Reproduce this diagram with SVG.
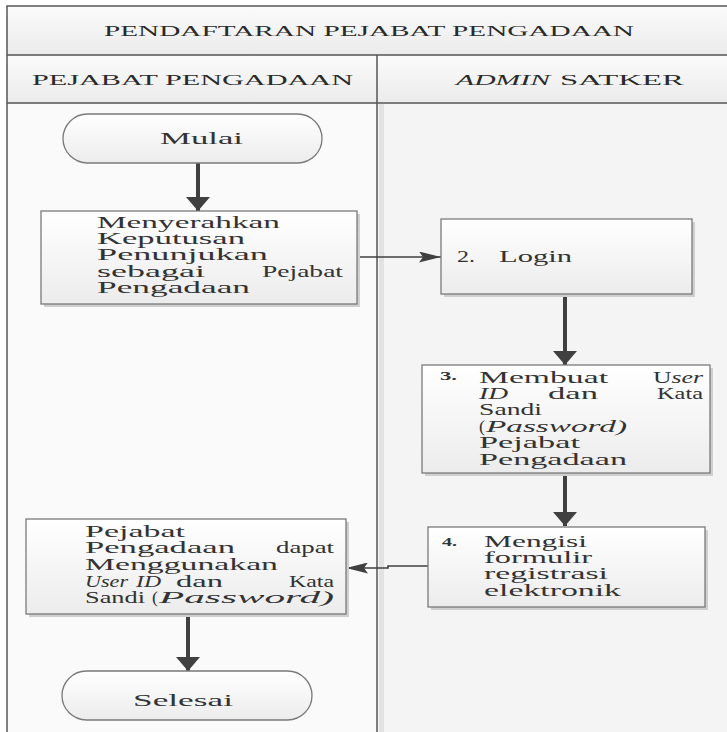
<svg xmlns="http://www.w3.org/2000/svg" width="727" height="732" viewBox="0 0 727 732">
  <defs>
    <linearGradient id="hdr" x1="0" y1="0" x2="0" y2="1">
      <stop offset="0" stop-color="#fbfbfb"/>
      <stop offset="1" stop-color="#ebebeb"/>
    </linearGradient>
    <linearGradient id="box" x1="0" y1="0" x2="0" y2="1">
      <stop offset="0" stop-color="#ffffff"/>
      <stop offset="1" stop-color="#ececec"/>
    </linearGradient>
    <marker id="headBig" viewBox="0 0 14 24" refX="14" refY="12" markerWidth="14" markerHeight="24" markerUnits="userSpaceOnUse" orient="auto">
      <path d="M0,0 L14,12 L0,24 Z" fill="#404040"/>
    </marker>
    <marker id="headThin" viewBox="0 0 22 11" refX="22" refY="5.5" markerWidth="22" markerHeight="11" markerUnits="userSpaceOnUse" orient="auto">
      <path d="M0,0 L22,5.5 L0,11 L4,5.5 Z" fill="#404040"/>
    </marker>
  </defs>
  <style>
    text { font-family: "Liberation Serif", "DejaVu Serif", serif; fill: #333333; }
    .t { font-size: 17.5px; }
    .h { font-size: 15.5px; fill: #2a2a2a; }
    .it { font-style: italic; }
    .num { font-size: 13px; font-weight: bold; }
    .frame { fill: none; stroke: #555555; stroke-width: 1.5; }
    .node { fill: url(#box); stroke: #7a7a7a; stroke-width: 1.3; }
    .shadow { fill: #cfcfcf; }
    .vconn { fill: none; stroke: #404040; stroke-width: 4; }
    .hconn { fill: none; stroke: #404040; stroke-width: 1.6; }
  </style>

  <!-- swimlane background -->
  <rect x="0" y="0" width="727" height="732" fill="#ffffff"/>
  <rect x="7" y="103" width="370" height="629" fill="#fafafa"/>
  <rect x="377" y="103" width="350" height="629" fill="#f4f4f4"/>
  <rect x="379" y="104" width="5" height="628" fill="#e2e2e2"/>
  <rect x="7" y="6" width="720" height="49" fill="url(#hdr)"/>
  <rect x="7" y="55" width="720" height="48" fill="url(#hdr)"/>

  <!-- swimlane frame -->
  <g id="lanes">
    <path class="frame" d="M7,732 V6 H727"/>
    <path class="frame" d="M7,55 H727"/>
    <path class="frame" d="M7,103 H727" stroke-width="2"/>
    <path class="frame" d="M377,55 V732"/>
    <text class="h" x="104" y="36" textLength="530" lengthAdjust="spacingAndGlyphs">PENDAFTARAN PEJABAT PENGADAAN</text>
    <text class="h" x="32" y="85" textLength="321" lengthAdjust="spacingAndGlyphs">PEJABAT PENGADAAN</text>
    <text class="h it" x="456" y="85" textLength="94" lengthAdjust="spacingAndGlyphs">ADMIN</text>
    <text class="h" x="560" y="85" textLength="124" lengthAdjust="spacingAndGlyphs">SATKER</text>
  </g>

  <!-- connectors -->
  <g id="connectors">
    <path class="vconn" d="M198,163 V211" marker-end="url(#headBig)"/>
    <path class="hconn" d="M357,257 H441" marker-end="url(#headThin)"/>
    <path class="vconn" d="M565,294 V365" marker-end="url(#headBig)"/>
    <path class="vconn" d="M565,473 V526" marker-end="url(#headBig)"/>
    <path class="hconn" d="M428,566 H388 V568 H346" marker-end="url(#headThin)"/>
    <path class="vconn" d="M188,614 V671" marker-end="url(#headBig)"/>
  </g>

  <!-- start -->
  <g id="mulai">
    <rect class="node" x="63" y="114" width="259" height="49" rx="24.5" ry="24.5"/>
    <text class="t" x="160" y="144" textLength="83" lengthAdjust="spacingAndGlyphs">Mulai</text>
  </g>

  <!-- step 1 -->
  <g id="menyerahkan">
    <rect class="shadow" x="44" y="214" width="316" height="93"/>
    <rect class="node" x="41" y="211" width="316" height="93"/>
    <text class="t" x="97" y="228" textLength="183" lengthAdjust="spacingAndGlyphs">Menyerahkan</text>
    <text class="t" x="97" y="244" textLength="148" lengthAdjust="spacingAndGlyphs">Keputusan</text>
    <text class="t" x="97" y="260" textLength="171" lengthAdjust="spacingAndGlyphs">Penunjukan</text>
    <text class="t" x="97" y="277" textLength="108" lengthAdjust="spacingAndGlyphs">sebagai</text>
    <text class="t" x="262" y="277" textLength="81" lengthAdjust="spacingAndGlyphs">Pejabat</text>
    <text class="t" x="97" y="293" textLength="153" lengthAdjust="spacingAndGlyphs">Pengadaan</text>
  </g>

  <!-- step 2 -->
  <g id="login">
    <rect class="shadow" x="444" y="222" width="251" height="75"/>
    <rect class="node" x="441" y="219" width="251" height="75"/>
    <text class="t" x="457" y="262" textLength="18" lengthAdjust="spacingAndGlyphs">2.</text>
    <text class="t" x="499" y="262" textLength="73" lengthAdjust="spacingAndGlyphs">Login</text>
  </g>

  <!-- step 3 -->
  <g id="membuat-user">
    <rect class="shadow" x="425" y="368" width="288" height="108"/>
    <rect class="node" x="422" y="365" width="288" height="108"/>
    <text class="num" x="440" y="380" textLength="17" lengthAdjust="spacingAndGlyphs">3.</text>
    <text class="t" x="479" y="383" textLength="129" lengthAdjust="spacingAndGlyphs">Membuat</text>
    <text class="t" x="653" y="383" textLength="50" lengthAdjust="spacingAndGlyphs">U<tspan class="it">ser</tspan></text>
    <text class="t it" x="479" y="399" textLength="29" lengthAdjust="spacingAndGlyphs">ID</text>
    <text class="t" x="548" y="399" textLength="50" lengthAdjust="spacingAndGlyphs">dan</text>
    <text class="t" x="657" y="399" textLength="46" lengthAdjust="spacingAndGlyphs">Kata</text>
    <text class="t" x="479" y="415" textLength="63" lengthAdjust="spacingAndGlyphs">Sandi</text>
    <text class="t" x="479" y="432" textLength="6" lengthAdjust="spacingAndGlyphs">(</text>
    <text class="t it" x="486" y="432" textLength="141" lengthAdjust="spacingAndGlyphs">Password)</text>
    <text class="t" x="479" y="448" textLength="101" lengthAdjust="spacingAndGlyphs">Pejabat</text>
    <text class="t" x="479" y="465" textLength="148" lengthAdjust="spacingAndGlyphs">Pengadaan</text>
  </g>

  <!-- step 4 -->
  <g id="mengisi-formulir">
    <rect class="shadow" x="431" y="530" width="277" height="80"/>
    <rect class="node" x="428" y="527" width="277" height="80"/>
    <text class="num" x="442" y="546" textLength="15" lengthAdjust="spacingAndGlyphs">4.</text>
    <text class="t" x="484" y="547" textLength="103" lengthAdjust="spacingAndGlyphs">Mengisi</text>
    <text class="t" x="484" y="563" textLength="108" lengthAdjust="spacingAndGlyphs">formulir</text>
    <text class="t" x="484" y="579" textLength="124" lengthAdjust="spacingAndGlyphs">registrasi</text>
    <text class="t" x="484" y="596" textLength="137" lengthAdjust="spacingAndGlyphs">elektronik</text>
  </g>

  <!-- step 5 -->
  <g id="menggunakan-akun">
    <rect class="shadow" x="29" y="522" width="320" height="95"/>
    <rect class="node" x="26" y="519" width="320" height="95"/>
    <text class="t" x="85" y="537" textLength="100" lengthAdjust="spacingAndGlyphs">Pejabat</text>
    <text class="t" x="85" y="553" textLength="150" lengthAdjust="spacingAndGlyphs">Pengadaan</text>
    <text class="t" x="276" y="553" textLength="58" lengthAdjust="spacingAndGlyphs">dapat</text>
    <text class="t" x="85" y="570" textLength="193" lengthAdjust="spacingAndGlyphs">Menggunakan</text>
    <text class="t it" x="85" y="587" textLength="43" lengthAdjust="spacingAndGlyphs">User</text>
    <text class="t it" x="136" y="587" textLength="25" lengthAdjust="spacingAndGlyphs">ID</text>
    <text class="t" x="176" y="587" textLength="47" lengthAdjust="spacingAndGlyphs">dan</text>
    <text class="t" x="289" y="587" textLength="45" lengthAdjust="spacingAndGlyphs">Kata</text>
    <text class="t" x="85" y="603" textLength="60" lengthAdjust="spacingAndGlyphs">Sandi</text>
    <text class="t" x="152" y="603" textLength="6" lengthAdjust="spacingAndGlyphs">(</text>
    <text class="t it" x="159" y="603" textLength="175" lengthAdjust="spacingAndGlyphs">Password)</text>
  </g>

  <!-- end -->
  <g id="selesai">
    <rect class="node" x="62" y="671" width="250" height="49" rx="24.5" ry="24.5"/>
    <text class="t" x="133" y="706" textLength="100" lengthAdjust="spacingAndGlyphs">Selesai</text>
  </g>
</svg>
